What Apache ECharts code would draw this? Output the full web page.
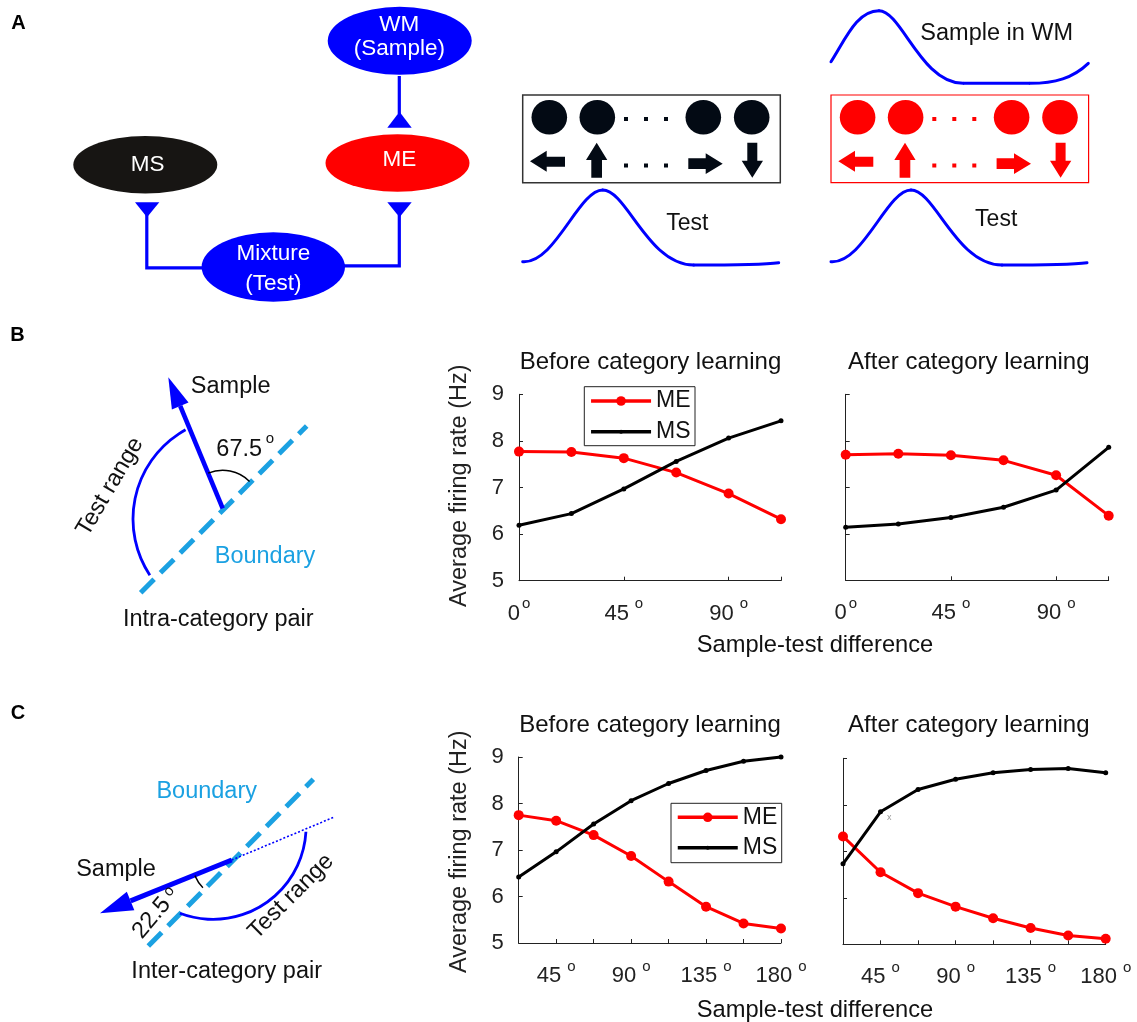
<!DOCTYPE html>
<html><head><meta charset="utf-8">
<script src="https://cdn.jsdelivr.net/npm/echarts@6/dist/echarts.min.js"></script>
<style>html,body{margin:0;padding:0;background:#fff}#c{width:1137px;height:1022px}</style>
</head><body><div id="c"></div>
<script>
// ---------- data ----------
const anglesB = [0, 22.5, 45, 67.5, 90, 112.5];
const anglesC = [22.5, 45, 67.5, 90, 112.5, 135, 157.5, 180];
const meBBefore = [7.77, 7.76, 7.63, 7.32, 6.87, 6.32];
const msBBefore = [6.19, 6.44, 6.97, 7.56, 8.06, 8.43];
const meBAfter  = [7.70, 7.72, 7.69, 7.58, 7.26, 6.39];
const msBAfter  = [6.14, 6.21, 6.35, 6.57, 6.94, 7.86];
const meCBefore = [7.75, 7.63, 7.32, 6.87, 6.32, 5.78, 5.42, 5.31];
const msCBefore = [6.42, 6.96, 7.56, 8.06, 8.43, 8.71, 8.91, 9.00];
const meCAfter  = [7.32, 6.55, 6.10, 5.81, 5.56, 5.35, 5.19, 5.12];
const msCAfter  = [6.73, 7.85, 8.33, 8.55, 8.69, 8.76, 8.78, 8.69];
const seriesNames = ['ME', 'MS'];
const panelTitles = ['Before category learning', 'After category learning'];
const yName = 'Average firing rate (Hz)';
const xName = 'Sample-test difference';

// ---------- styles ----------
const REG = "'Liberation Sans',Arial,sans-serif";
const BLUE = '#0000ff', RED = '#ff0000', LBLUE = '#1ba1e2';

function txt(x, y, text, size, opts) {
  opts = opts || {};
  return {type: 'text', x: x, y: y, rotation: opts.rot || 0, z: 10,
    style: {text: text, fontSize: size, fontFamily: REG, fontWeight: opts.weight || 'normal',
      fill: opts.color || '#111', align: opts.align || 'center', verticalAlign: 'middle'}};
}
function ell(cx, cy, rx, ry, fill) {
  return {type: 'circle', x: cx, y: cy, scaleY: ry / rx, shape: {cx: 0, cy: 0, r: rx}, style: {fill: fill}};
}
function poly(points, fill) { return {type: 'polygon', shape: {points: points}, style: {fill: fill}}; }
function ln(x1, y1, x2, y2, color, w, dash) {
  return {type: 'line', shape: {x1: x1, y1: y1, x2: x2, y2: y2},
    style: {stroke: color, lineWidth: w, lineDash: dash || null}};
}
function bez(p, color, w) {
  return {type: 'bezierCurve', shape: {x1: p[0], y1: p[1], cpx1: p[2], cpy1: p[3], cpx2: p[4], cpy2: p[5], x2: p[6], y2: p[7]},
    style: {stroke: color, lineWidth: w, fill: null, lineCap: 'round'}};
}
function arc(cx, cy, r, a0, a1, color, w) {
  return {type: 'arc', shape: {cx: cx, cy: cy, r: r, startAngle: a0 * Math.PI / 180, endAngle: a1 * Math.PI / 180, clockwise: true},
    style: {stroke: color, lineWidth: w, fill: null}};
}
const deg = Math.PI / 180;

const G = [];
// panel letters
G.push(txt(18.5, 23, 'A', 20, {weight: 'bold', color: '#000'}));
G.push(txt(17.5, 335.5, 'B', 20, {weight: 'bold', color: '#000'}));
G.push(txt(18, 713.7, 'C', 20, {weight: 'bold', color: '#000'}));

// ---- Panel A : network ----
G.push(ln(399.3, 76, 399.3, 114, BLUE, 3.2));
G.push(poly([[399.5, 111.7], [387.3, 127.7], [411.7, 127.7]], BLUE));
G.push({type: 'polyline', shape: {points: [[146.8, 215], [146.8, 267.8], [203, 267.8]]}, style: {stroke: BLUE, lineWidth: 3.2, fill: null}});
G.push({type: 'polyline', shape: {points: [[343, 265.8], [399.3, 265.8], [399.3, 215]]}, style: {stroke: BLUE, lineWidth: 3.2, fill: null}});
G.push(poly([[135, 202.3], [159.3, 202.3], [147, 217.3]], BLUE));
G.push(poly([[387.3, 202.3], [411.7, 202.3], [399.5, 217.3]], BLUE));
G.push(ell(399.7, 40.8, 72, 34, BLUE));
G.push(ell(397.5, 163, 72, 28.7, RED));
G.push(ell(145.3, 164.7, 72, 28.7, '#171513'));
G.push(ell(273.3, 267, 71.7, 34.7, BLUE));
G.push(txt(399.3, 25, 'WM', 22.5, {color: '#fff'}));
G.push(txt(399.3, 48.5, '(Sample)', 22.5, {color: '#fff'}));
G.push(txt(399.3, 159.5, 'ME', 22.5, {color: '#fff'}));
G.push(txt(147.7, 165, 'MS', 22.5, {color: '#fff'}));
G.push(txt(273.3, 253.3, 'Mixture', 22.5, {color: '#fff'}));
G.push(txt(273.3, 283.3, '(Test)', 22.5, {color: '#fff'}));

// ---- Panel A : stimulus boxes ----
function stimBox(d, col, boxStroke, boxW) {
  G.push({type: 'rect', shape: {x: 522.7 + d, y: 95, width: 257.6, height: 87.7}, style: {fill: null, stroke: boxStroke, lineWidth: boxW}});
  [549.3, 597.3, 703.3, 751.7].forEach(function (cx) { G.push(ell(cx + d, 117.3, 17.8, 17.3, col)); });
  [626, 646, 666].forEach(function (cx) {
    G.push({type: 'rect', shape: {x: cx + d - 2, y: 117, width: 4, height: 4}, style: {fill: col}});
    G.push({type: 'rect', shape: {x: cx + d - 2, y: 163.5, width: 4, height: 4}, style: {fill: col}});
  });
  G.push(poly([[530 + d, 161.2], [546.7 + d, 150.7], [546.7 + d, 156.7], [565 + d, 156.7], [565 + d, 166.7], [546.7 + d, 166.7], [546.7 + d, 171.7]], col));
  G.push(poly([[596.7 + d, 142.7], [607.3 + d, 160], [602 + d, 160], [602 + d, 177.7], [591.3 + d, 177.7], [591.3 + d, 160], [586 + d, 160]], col));
  G.push(poly([[722.7 + d, 163.7], [705.7 + d, 153.3], [705.7 + d, 158.3], [688.3 + d, 158.3], [688.3 + d, 169], [705.7 + d, 169], [705.7 + d, 174]], col));
  G.push(poly([[752.3 + d, 177.7], [741.7 + d, 160.7], [747.3 + d, 160.7], [747.3 + d, 142.7], [757.3 + d, 142.7], [757.3 + d, 160.7], [763 + d, 160.7]], col));
  // test tuning curve
  G.push(bez([522.7 + d, 261.7, 555 + d, 264, 578.7 + d, 190, 602.7 + d, 190], BLUE, 3));
  G.push(bez([602.7 + d, 190, 626.7 + d, 190, 648 + d, 265, 693.7 + d, 265], BLUE, 3));
  G.push(bez([693.7 + d, 265, 730 + d, 265, 765 + d, 264.5, 778.7 + d, 262.7], BLUE, 3));
}
stimBox(0, '#030a14', '#333', 1.5);
stimBox(308.3, RED, RED, 1.2);
G.push(txt(687.3, 224, 'Test', 23));
G.push(txt(996.2, 220, 'Test', 23));
// sample in WM curve
G.push(bez([831, 61.7, 846, 38, 857, 10.7, 879, 10.7], BLUE, 3));
G.push(bez([879, 10.7, 901.4, 10.7, 921, 83.3, 963, 83.3], BLUE, 3));
G.push(ln(963, 83.3, 1030, 83.3, BLUE, 3));
G.push(bez([1030, 83.3, 1055, 83.3, 1073, 78, 1088.3, 63.3], BLUE, 3));
G.push(txt(996.7, 33.3, 'Sample in WM', 23.5));

// ---- Panel B diagram ----
G.push(ln(140.7, 592.7, 306.7, 426, LBLUE, 5, [19, 9]));
G.push(arc(235, 519, 102, 146.6, 241, BLUE, 2.8));
(function () {
  const bx = 222.7, by = 508.3, tx = 168.3, ty = 377.3;
  const L = Math.hypot(tx - bx, ty - by), ux = (tx - bx) / L, uy = (ty - by) / L, px = -uy, py = ux;
  const hx = tx - 31 * ux, hy = ty - 31 * uy;
  G.push(ln(bx, by, hx, hy, BLUE, 4.6));
  G.push(poly([[tx, ty], [hx + 9 * px, hy + 9 * py], [hx - 9 * px, hy - 9 * py]], BLUE));
})();
G.push(arc(222.7, 508.3, 38, -112.5, -45, '#000', 1.4));
G.push(txt(230.7, 387, 'Sample', 23.5));
G.push(txt(239.2, 450, '67.5', 23.5));
G.push(txt(270, 438.5, 'o', 15));
G.push(txt(110, 486.7, 'Test range', 23.5, {rot: 59.5 * deg}));
G.push(txt(265, 556.7, 'Boundary', 23.5, {color: LBLUE}));
G.push(txt(218.3, 620, 'Intra-category pair', 23.5));

// ---- Panel C diagram ----
G.push(ln(148.3, 946, 313.3, 779.3, LBLUE, 5, [19, 9]));
G.push(ln(231.7, 860, 335, 816.7, BLUE, 1.6, [2, 2]));
G.push(arc(213.1, 826.4, 93, 3.3, 110.9, BLUE, 2.8));
(function () {
  const bx = 231.7, by = 860, tx = 100, ty = 913.3;
  const L = Math.hypot(tx - bx, ty - by), ux = (tx - bx) / L, uy = (ty - by) / L, px = -uy, py = ux;
  const hx = tx - 33 * ux, hy = ty - 33 * uy;
  G.push(ln(bx, by, hx, hy, BLUE, 5));
  G.push(poly([[tx, ty], [hx + 10 * px, hy + 10 * py], [hx - 10 * px, hy - 10 * py]], BLUE));
})();
G.push(arc(231.7, 860, 40, 136, 157, '#000', 1.4));
G.push(txt(206.7, 792, 'Boundary', 23.5, {color: LBLUE}));
G.push(txt(116, 870, 'Sample', 23.5));
G.push(txt(151.7, 918, '22.5', 23.5, {rot: 50 * deg}));
G.push(txt(169, 891.5, 'o', 15, {rot: 50 * deg}));
G.push(txt(291, 896.5, 'Test range', 23.5, {rot: 45 * deg}));
G.push(txt(226.7, 972, 'Inter-category pair', 23.5));

// ---- chart texts ----
G.push(txt(650.5, 362, panelTitles[0], 24));
G.push(txt(968.8, 362, panelTitles[1], 24));
G.push(txt(650, 725, panelTitles[0], 24));
G.push(txt(968.8, 725, panelTitles[1], 24));
G.push(txt(815, 645, xName, 23.7));
G.push(txt(815, 1010, xName, 23.7));
G.push(txt(460, 485.7, yName, 23.5, {rot: Math.PI / 2, color: '#222'}));
G.push(txt(460, 851.7, yName, 23.5, {rot: Math.PI / 2, color: '#222'}));
G.push(txt(889.3, 817.3, 'x', 9, {color: '#999'}));
// legend boxes
G.push({type: 'rect', shape: {x: 584.3, y: 386.7, width: 110.7, height: 59}, style: {fill: '#fff', stroke: '#222', lineWidth: 1}, z: 1});
G.push({type: 'rect', shape: {x: 671, y: 803.3, width: 110.7, height: 59.4}, style: {fill: '#fff', stroke: '#222', lineWidth: 1}, z: 1});

// ---------- axes ----------
const degRich = {
  n: {fontSize: 22, fontFamily: REG, color: '#222', lineHeight: 34},
  s: {fontSize: 15, fontFamily: REG, color: '#222', verticalAlign: 'top', padding: [0, 0, 0, 6]},
  z: {fontSize: 15, fontFamily: REG, color: '#222', verticalAlign: 'top', padding: [0, 0, 0, 2]}
};
function degFmt(v) {
  if (Math.abs(v % 45) > 1e-6) return '';
  return '{n|' + v + '}' + (v === 0 ? '{z|o}' : '{s|o}');
}
function xAx(grid, min, max, interval) {
  return {type: 'value', gridIndex: grid, min: min, max: max, interval: interval,
    axisLine: {show: true, lineStyle: {color: '#222', width: 1}},
    axisTick: {show: true, inside: true, length: 4, lineStyle: {color: '#222'}},
    splitLine: {show: false},
    axisLabel: {show: true, formatter: degFmt, rich: degRich, margin: 16, showMaxLabel: true, showMinLabel: true}};
}
function yAx(grid, labels) {
  return {type: 'value', gridIndex: grid, min: 5, max: 9, interval: 1,
    axisLine: {show: true, lineStyle: {color: '#222', width: 1}},
    axisTick: {show: true, inside: true, length: 4, lineStyle: {color: '#222'}},
    splitLine: {show: false},
    axisLabel: {show: labels, fontSize: 22, fontFamily: REG, color: '#222', margin: 15}};
}
function ser(name, idx, xs, ys) {
  const me = name === seriesNames[0];
  return {type: 'line', name: name, xAxisIndex: idx, yAxisIndex: idx,
    data: xs.map(function (a, i) { return [a, ys[i]]; }),
    symbol: 'circle', symbolSize: me ? 10 : 5, showSymbol: true, clip: false, silent: true,
    lineStyle: {color: me ? RED : '#000', width: 3}, itemStyle: {color: me ? RED : '#000'},
    z: me ? 2 : 3};
}
function leg(name, left, cy, iconH) {
  return {orient: 'vertical', data: [name], selectedMode: false, left: left, top: cy - 12, padding: 0,
    itemWidth: 60, itemHeight: iconH, z: 5,
    lineStyle: {width: 3.5},
    textStyle: {fontSize: 23, fontFamily: REG, color: '#111', lineHeight: 24}};
}

const option = {
  animation: false,
  backgroundColor: '#fff',
  grid: [
    {left: 519, top: 394.3, width: 262, height: 186.4},
    {left: 845.7, top: 394.3, width: 263, height: 186},
    {left: 518.7, top: 757, width: 262.3, height: 186},
    {left: 843, top: 758.3, width: 262.7, height: 186}
  ],
  xAxis: [xAx(0, 0, 112.5, 45), xAx(1, 0, 112.5, 45), xAx(2, 22.5, 180, 22.5), xAx(3, 22.5, 180, 22.5)],
  yAxis: [yAx(0, true), yAx(1, false), yAx(2, true), yAx(3, false)],
  legend: [
    leg(seriesNames[0], 589.3, 401, 12), leg(seriesNames[1], 589.3, 431.7, 5),
    leg(seriesNames[0], 676, 817.3, 12), leg(seriesNames[1], 676, 847.7, 5)
  ],
  series: [
    ser('ME', 0, anglesB, meBBefore), ser('MS', 0, anglesB, msBBefore),
    ser('ME', 1, anglesB, meBAfter), ser('MS', 1, anglesB, msBAfter),
    ser('ME', 2, anglesC, meCBefore), ser('MS', 2, anglesC, msCBefore),
    ser('ME', 3, anglesC, meCAfter), ser('MS', 3, anglesC, msCAfter)
  ],
  graphic: {elements: G}
};
const chart = echarts.init(document.getElementById('c'), null, {renderer: 'canvas'});
chart.setOption(option);
</script>
</body></html>
